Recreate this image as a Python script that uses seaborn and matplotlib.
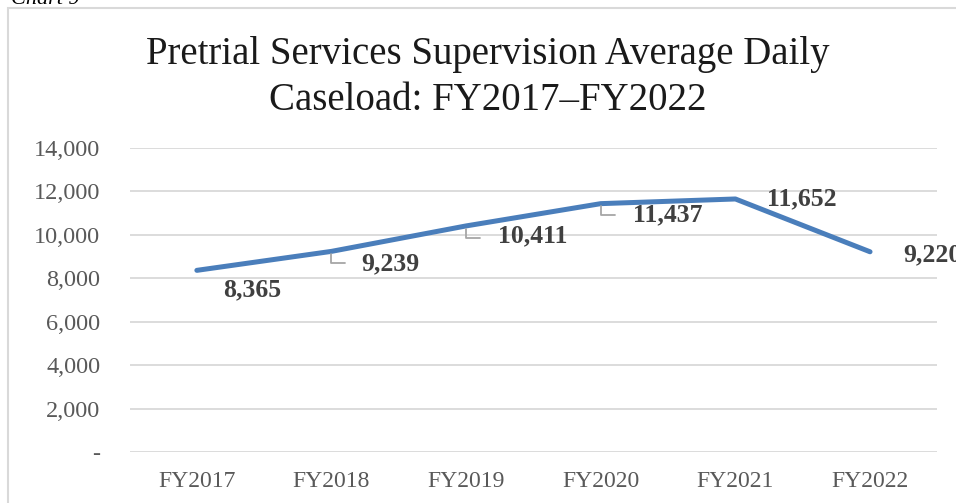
import matplotlib
matplotlib.use("Agg")
import matplotlib.pyplot as plt
from matplotlib.patches import Rectangle
from matplotlib.ticker import FuncFormatter
import seaborn as sns

years = ["FY2017", "FY2018", "FY2019", "FY2020", "FY2021", "FY2022"]
caseload = [8365, 9239, 10411, 11437, 11652, 9220]
y_ticks = [0, 2000, 4000, 6000, 8000, 10000, 12000, 14000]

# label offsets from each point (in points) and whether it has a leader line
label_offsets = [(40, -14), (42, -9), (48, -7), (48, -8), (48, 0), (45, -2)]
has_leader = [False, True, True, True, False, False]

sns.set_style("white")
plt.rcParams["font.family"] = ["Liberation Serif", "DejaVu Serif"]

fig = plt.figure(figsize=(9.56, 5.03), dpi=100)
ax = fig.add_axes([0.1355, 0.1014, 0.845, 0.6044])

sns.lineplot(x=years, y=caseload, sort=False, ax=ax, color="#4A7EBB",
             linewidth=3.6, solid_capstyle="round", solid_joinstyle="round")

ax.set_xlim(-0.5, 5.5)
ax.set_ylim(0, 14000)
ax.set_yticks(y_ticks)
ax.yaxis.set_major_formatter(FuncFormatter(lambda v, p: "-" if v == 0 else f"{v:,.0f}"))
ax.grid(axis="y", color="#D9D9D9", linewidth=1.3)
ax.set_axisbelow(True)
for s in ax.spines.values():
    s.set_visible(False)
ax.tick_params(axis="y", length=0, pad=21, labelsize=17.5, labelcolor="#595959")
ax.tick_params(axis="x", length=0, pad=14, labelsize=17, labelcolor="#595959")
ax.set_xlabel("")
ax.set_ylabel("")

for i, (v, off, lead) in enumerate(zip(caseload, label_offsets, has_leader)):
    ax.annotate(f"{v:,}", xy=(i, v), xytext=off, textcoords="offset points",
                ha="center", va="center", fontsize=18.5, fontweight="bold",
                color="#404040", annotation_clip=False)
    if lead:
        ax.annotate("", xy=(i, v), xytext=(10, -8.5), textcoords="offset points",
                    arrowprops=dict(arrowstyle="-", color="#A6A6A6", lw=1.3,
                                    shrinkA=0, shrinkB=2,
                                    connectionstyle="angle,angleA=180,angleB=90,rad=0"))

fig.text(0.5105, 1 - 77.5 / 503, "Pretrial Services Supervision Average Daily\nCaseload: FY2017\u2013FY2022",
         ha="center", va="center", fontsize=28, color="#1a1a1a", linespacing=1.34)

fig.patches.append(Rectangle((7.5 / 956, -0.1), 1.5, 1.1 - 8.3 / 503,
                             transform=fig.transFigure, fill=False,
                             edgecolor="#D9D9D9", linewidth=1.5))
fig.text(0.012, 1 - 4 / 503, "Chart 9", ha="left", va="baseline",
         fontsize=16, fontstyle="italic", color="#000000")

fig.savefig("out.png", dpi=100)
